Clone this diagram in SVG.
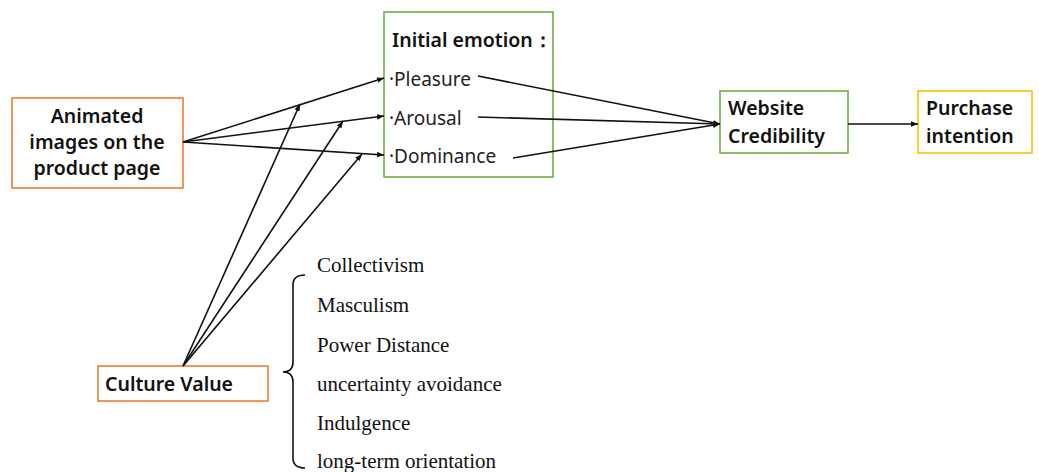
<svg xmlns="http://www.w3.org/2000/svg" width="1039" height="472" viewBox="0 0 1039 472">
<style>
.box{fill:#fff;stroke-width:1.6}
.org{stroke:#ED7D31}
.grn{stroke:#70AD47}
.yel{stroke:#FFC000}
.b{font-family:"Noto Sans","Liberation Sans",sans-serif;font-weight:600;font-size:19.5px;fill:#111}
.r{font-family:"Noto Sans","Liberation Sans",sans-serif;font-size:19px;fill:#222}
.t{font-family:"Liberation Serif","Times New Roman",serif;font-size:21px;fill:#111}
.ln{stroke:#111;stroke-width:1.6;fill:none}
</style>
<defs>
<marker id="ah" viewBox="0 0 10 10" refX="10" refY="5" markerWidth="7" markerHeight="7" orient="auto" markerUnits="userSpaceOnUse">
<path d="M0,1 L10,5 L0,9 Z" fill="#111"/>
</marker>
</defs>
<rect width="1039" height="472" fill="#fff"/>
<g id="animated">
<rect class="box org" x="12" y="98" width="171" height="90"/>
<text class="b" x="97" y="123" text-anchor="middle" font-size="21">Animated</text>
<text class="b" x="97" y="149" text-anchor="middle" font-size="21">images on the</text>
<text class="b" x="97" y="175" text-anchor="middle" font-size="21">product page</text>
</g>
<g id="emotion">
<rect class="box grn" x="384" y="12" width="169" height="165"/>
<text class="b" x="392" y="47" font-size="18.5">Initial emotion：</text>
<text class="r" x="389" y="86">·Pleasure</text>
<text class="r" x="389" y="125">·Arousal</text>
<text class="r" x="389" y="163">·Dominance</text>
</g>
<g id="credibility">
<rect class="box grn" x="720" y="91" width="128" height="62"/>
<text class="b" x="728" y="115">Website</text>
<text class="b" x="728" y="143">Credibility</text>
</g>
<g id="purchase">
<rect class="box yel" x="918" y="91" width="114" height="62"/>
<text class="b" x="926" y="115">Purchase</text>
<text class="b" x="926" y="143">intention</text>
</g>
<g id="culture">
<rect class="box org" x="98" y="366" width="170" height="35"/>
<text class="b" x="105" y="391" font-size="20">Culture Value</text>
</g>
<g id="dimensions">
<path class="ln" d="M305,275 Q293,275 293,285 L293,362 Q293,372 283,372 Q293,372 293,382 L293,458 Q293,468 305,468" stroke-width="1.4"/>
<text class="t" x="317" y="272">Collectivism</text>
<text class="t" x="317" y="312">Masculism</text>
<text class="t" x="317" y="352">Power Distance</text>
<text class="t" x="317" y="391">uncertainty avoidance</text>
<text class="t" x="317" y="430">Indulgence</text>
<text class="t" x="317" y="468">long-term orientation</text>
</g>
<g id="connectors">
<line class="ln" x1="183" y1="142" x2="384" y2="78" marker-end="url(#ah)"/>
<line class="ln" x1="183" y1="142" x2="384" y2="116" marker-end="url(#ah)"/>
<line class="ln" x1="183" y1="142" x2="384" y2="155" marker-end="url(#ah)"/>
<line class="ln" x1="183" y1="366" x2="300" y2="104" marker-end="url(#ah)"/>
<line class="ln" x1="183" y1="366" x2="343" y2="121" marker-end="url(#ah)"/>
<line class="ln" x1="183" y1="366" x2="362" y2="154" marker-end="url(#ah)"/>
<line class="ln" x1="478" y1="76" x2="720" y2="124" marker-end="url(#ah)"/>
<line class="ln" x1="478" y1="117" x2="720" y2="124" marker-end="url(#ah)"/>
<line class="ln" x1="513" y1="158" x2="720" y2="124" marker-end="url(#ah)"/>
<line class="ln" x1="848" y1="124" x2="918" y2="124" marker-end="url(#ah)"/>
</g>
</svg>
